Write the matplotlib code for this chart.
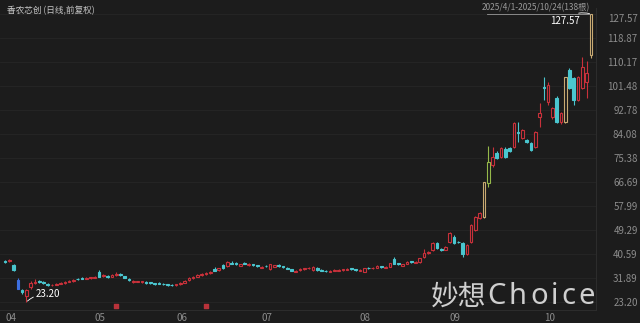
import matplotlib
matplotlib.use('Agg')
import matplotlib.pyplot as plt
from matplotlib.lines import Line2D
import numpy as np

plt.rcParams['font.family'] = ['Noto Sans CJK SC', 'DejaVu Sans']

# daily OHLC, 2025/4/1 - 2025/10/24, 138 bars
opens = [38.0, 38.0, 36.6, 31.2, 27.5, 25.2, 28.6, 30.0, 30.8, 30.4,
         29.8, 29.2, 29.5, 29.8, 30.0, 30.5, 30.8, 31.6, 32.0, 31.7,
         31.8, 32.0, 34.0, 32.5, 32.8, 32.4, 33.0, 33.4, 32.6, 31.6,
         30.5, 30.5, 30.4, 30.5, 30.3, 30.0, 30.1, 29.9, 29.6, 29.5,
         29.3, 29.7, 30.2, 31.0, 31.9, 32.4, 32.9, 33.2, 33.6, 35.0,
         34.8, 36.6, 36.2, 37.5, 37.3, 36.4, 37.4, 36.6, 36.9, 36.5,
         35.6, 36.4, 35.0, 36.0, 36.5, 36.2, 35.7, 35.0, 34.2, 34.7,
         35.1, 35.4, 34.8, 35.5, 34.9, 34.6, 34.2, 34.5, 34.6, 34.7,
         34.9, 35.4, 35.0, 34.6, 34.1, 35.7, 35.4, 35.6, 36.1, 35.7,
         36.0, 38.8, 37.2, 36.4, 37.0, 38.0, 37.4, 37.7, 39.5, 40.8,
         42.0, 44.6, 42.5, 42.2, 44.9, 46.8, 45.0, 44.6, 40.6, 44.9,
         49.3, 53.6, 54.0, 66.3, 72.8, 77.2, 75.7, 78.6, 79.0, 79.4,
         84.8, 82.6, 81.8, 80.8, 79.4, 90.2, 101.2, 95.7, 90.2, 97.1,
         88.4, 88.4, 107.3, 104.4, 96.4, 100.8, 102.9, 112.7]
highs = [38.4, 38.9, 37.0, 31.8, 28.0, 27.8, 30.8, 31.6, 31.1, 30.7,
         30.0, 29.8, 30.0, 30.3, 30.7, 31.1, 31.4, 31.9, 32.3, 32.2,
         32.3, 32.7, 34.8, 33.4, 33.1, 33.3, 34.0, 33.7, 32.8, 31.8,
         31.0, 30.9, 30.9, 30.7, 30.5, 30.2, 30.3, 30.1, 29.8, 29.7,
         29.9, 30.4, 31.1, 32.1, 32.7, 33.2, 33.6, 34.0, 34.4, 35.8,
         35.7, 37.0, 38.2, 37.9, 37.6, 37.0, 37.7, 37.3, 37.1, 36.7,
         36.2, 36.6, 37.0, 36.7, 36.8, 36.4, 35.9, 35.2, 34.8, 35.4,
         35.7, 35.9, 36.2, 35.8, 35.1, 34.8, 34.7, 35.0, 35.1, 35.2,
         35.5, 35.6, 35.2, 35.1, 35.7, 35.9, 35.9, 36.5, 36.3, 36.2,
         37.5, 39.6, 37.4, 37.0, 37.9, 38.2, 38.0, 39.3, 42.4, 41.6,
         44.9, 45.0, 42.8, 43.4, 48.6, 47.3, 45.4, 45.0, 44.2, 51.5,
         54.4, 55.9, 66.6, 79.9, 79.4, 77.8, 79.4, 79.2, 79.4, 88.5,
         88.4, 85.9, 82.3, 81.2, 85.2, 95.4, 104.7, 103.0, 94.0, 97.8,
         92.1, 104.9, 108.0, 104.8, 105.1, 112.0, 110.5, 127.57]
lows = [37.2, 37.6, 34.5, 27.8, 26.0, 23.20, 28.0, 29.8, 30.2, 29.8,
        28.9, 29.0, 29.3, 29.6, 29.8, 30.3, 30.6, 31.2, 31.5, 31.5,
        31.6, 31.8, 32.2, 32.3, 32.0, 32.2, 32.8, 32.8, 31.8, 30.9,
        30.2, 30.3, 30.2, 29.9, 29.8, 29.5, 29.7, 29.4, 29.1, 29.0,
        29.1, 29.5, 30.0, 30.8, 31.7, 32.2, 32.7, 33.0, 33.4, 34.4,
        34.6, 35.3, 36.0, 36.9, 36.7, 36.2, 36.9, 36.4, 36.3, 35.9,
        35.4, 35.9, 34.8, 35.8, 35.9, 35.6, 35.0, 34.3, 34.0, 34.5,
        34.9, 35.2, 34.6, 34.6, 34.4, 34.1, 34.0, 34.3, 34.4, 34.5,
        34.7, 34.9, 34.5, 34.4, 33.9, 35.2, 35.2, 35.4, 35.6, 35.5,
        35.8, 36.8, 36.6, 36.2, 36.8, 37.4, 37.2, 37.5, 39.3, 40.5,
        41.8, 42.5, 41.6, 41.9, 44.5, 44.2, 44.4, 39.6, 40.3, 44.5,
        48.8, 53.2, 53.6, 64.9, 72.0, 74.9, 75.3, 75.3, 77.5, 79.0,
        81.2, 82.2, 80.8, 77.9, 79.0, 86.6, 96.4, 94.6, 89.5, 88.0,
        87.6, 88.0, 100.4, 94.6, 96.0, 100.4, 97.0, 111.5]
closes = [37.6, 38.4, 34.8, 27.84, 26.8, 27.4, 30.1, 30.4, 30.4, 30.1,
          29.2, 29.5, 29.8, 30.1, 30.5, 30.9, 31.2, 31.4, 31.7, 32.0,
          32.1, 32.4, 32.4, 33.1, 32.3, 33.0, 33.4, 33.0, 32.0, 31.2,
          30.7, 30.6, 30.7, 30.1, 30.0, 29.7, 29.9, 29.6, 29.3, 29.2,
          29.7, 30.2, 30.9, 31.9, 32.4, 33.0, 33.4, 33.8, 34.2, 34.6,
          35.5, 35.5, 37.7, 37.1, 36.9, 36.8, 37.1, 37.0, 36.5, 36.1,
          36.0, 36.1, 36.8, 36.5, 36.1, 35.8, 35.2, 34.5, 34.6, 35.2,
          35.5, 35.7, 35.9, 34.8, 34.6, 34.3, 34.5, 34.8, 34.9, 35.0,
          35.3, 35.1, 34.7, 34.9, 35.5, 35.4, 35.7, 36.3, 35.8, 36.0,
          37.3, 37.0, 36.8, 36.8, 37.7, 37.6, 37.8, 39.1, 41.0, 41.3,
          44.6, 42.8, 42.0, 43.1, 48.2, 44.6, 44.8, 40.6, 43.9, 51.1,
          54.0, 55.5, 66.6, 73.9, 75.7, 75.4, 79.0, 75.7, 77.9, 88.1,
          84.4, 85.5, 81.2, 78.3, 84.8, 91.7, 100.8, 101.8, 93.5, 88.4,
          91.7, 104.7, 100.8, 96.4, 104.7, 108.4, 106.31, 127.57]

months = ['04', '05', '06', '07', '08', '09', '10']
month_start = [0, 21, 40, 60, 83, 104, 126]
yticks = [23.20, 31.89, 40.59, 49.29, 57.99, 66.69, 75.38, 84.08,
          92.78, 101.48, 110.17, 118.87, 127.57]
events = [26, 47]
limit_down = [3]
gold_bars = [112, 131, 137]
green_bars = [113]

bg = '#1c1c1c'
red = '#c8313b'
cyan = '#4ac6cf'

o = np.array(opens)
h = np.array(highs)
l = np.array(lows)
c = np.array(closes)
idx = np.arange(len(c))

edge = [red if c[i] >= o[i] else cyan for i in idx]
face = [bg if c[i] >= o[i] else cyan for i in idx]
for i in limit_down:
    edge[i] = face[i] = '#3d6fe0'
for i in gold_bars:
    edge[i] = '#c9aa72'
    face[i] = bg
for i in green_bars:
    edge[i] = '#95b84a'
    face[i] = bg

fig = plt.figure(figsize=(6.4, 3.23), dpi=100, facecolor=bg)
ax = fig.add_axes([0, 13 / 323, 596 / 640, 302 / 323])
ax.set_facecolor(bg)

for y in yticks:
    ax.axhline(y, color='#262626', lw=0.6, zorder=0)

ax.vlines(idx, l, h, colors=edge, lw=0.8, zorder=2)
body_h = np.maximum(np.abs(c - o), 0.3)
ax.bar(idx, body_h, 0.62, bottom=np.minimum(o, c), color=face,
       edgecolor=edge, linewidth=0.8, zorder=3)

ax.scatter(events, [21.6] * len(events), marker='s', s=8, color='#b8323a',
           zorder=3)

ax.set_xlim(-1.17, 138.2)
ax.set_ylim(20.30, 129.74)

ax.set_xticks(month_start, months)
for t in ax.get_xticklabels():
    t.set_ha('left')
ax.tick_params(axis='x', length=0, pad=2, labelsize=7, labelcolor='#8c8c8c')

ax.yaxis.tick_right()
ax.set_yticks(yticks, [f'{v:.2f}' for v in yticks])
for t in ax.get_yticklabels():
    t.set_ha('right')
ax.get_yticklabels()[-1].set_va('top')
ax.tick_params(axis='y', length=0, pad=30, labelsize=7, labelcolor='#8c8c8c')

for s in ['top', 'left']:
    ax.spines[s].set_visible(False)
ax.spines['right'].set_color('#2c2c2c')
ax.spines['bottom'].set_color('#2c2c2c')
ax.spines['right'].set_linewidth(0.8)
ax.spines['bottom'].set_linewidth(0.8)

ax.annotate('127.57', xy=(137, 127.57), xytext=(-8, -5),
            textcoords='offset points', ha='right', va='center',
            fontsize=7, color='white',
            arrowprops=dict(arrowstyle='-', color='white', lw=0.6,
                            shrinkA=0, shrinkB=1,
                            connectionstyle='arc3,rad=-0.3'))
ax.annotate('23.20', xy=(5, 23.20), xytext=(7, 6),
            textcoords='offset points', ha='left', va='center',
            fontsize=7, color='white',
            arrowprops=dict(arrowstyle='-', color='white', lw=0.6,
                            shrinkA=0, shrinkB=1,
                            connectionstyle='arc3,rad=0.2'))

fig.text(7 / 640, 1 - 11 / 323, '香农芯创 (日线,前复权)', fontsize=6.2,
         color='#c8c8c8', va='center')
fig.text(590 / 640, 1 - 8 / 323, '2025/4/1-2025/10/24(138根)', ha='right',
         va='center', fontsize=6, color='#9a9a9a')
fig.add_artist(Line2D([487 / 640, 590 / 640], [1 - 14 / 323, 1 - 14 / 323],
                      color='#9a9a9a', lw=0.6))

# watermark, letters slightly spread like the original
r = fig.canvas.get_renderer()
wm = fig.text(431 / 640, 1 - 297 / 323, '妙想', ha='left', va='center',
              fontsize=20, color='#cfcfcf')
x = wm.get_window_extent(r).x1 + 1
for ch in 'Choice':
    t = fig.text(x / 640, 1 - 297 / 323, ch, ha='left', va='center',
                 fontsize=21, color='#cfcfcf', family='Noto Sans')
    x = t.get_window_extent(r).x1 + 3

fig.savefig('out.png', dpi=100, facecolor=bg)
